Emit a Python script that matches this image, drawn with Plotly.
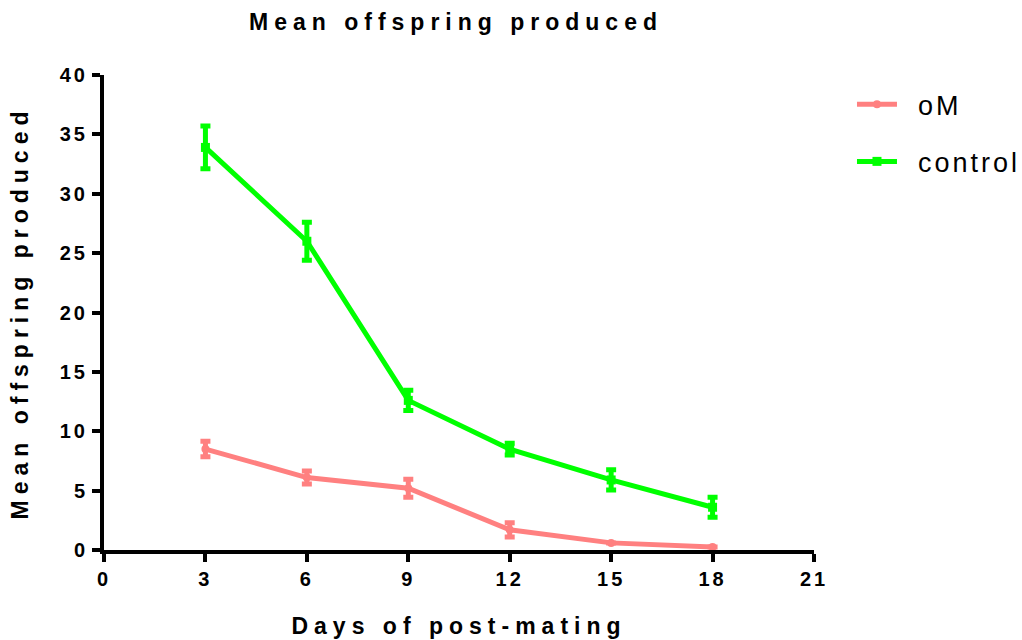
import plotly.graph_objects as go

# Days after mating at which offspring were counted
days = [3, 6, 9, 12, 15, 18]

# Mean offspring per group and their error (SEM)
om_mean = [8.5, 6.1, 5.2, 1.7, 0.6, 0.25]
om_err = [0.65, 0.55, 0.75, 0.6, 0.0, 0.0]
control_mean = [33.9, 26.0, 12.6, 8.5, 5.9, 3.6]
control_err = [1.8, 1.6, 0.85, 0.5, 0.85, 0.85]

x_ticks = [0, 3, 6, 9, 12, 15, 18, 21]
y_ticks = [0, 5, 10, 15, 20, 25, 30, 35, 40]

PINK = "#FF8080"
GREEN = "#00FF00"
FONT = "Liberation Sans, Arial, sans-serif"

fig = go.Figure()

fig.add_trace(go.Scatter(
    x=days, y=om_mean, name="oM", mode="lines+markers", legendgroup="om",
    line=dict(color=PINK, width=5),
    marker=dict(symbol="circle", size=8, color=PINK),
    error_y=dict(type="data", array=om_err, visible=True,
                 color=PINK, thickness=5, width=5),
))
fig.add_trace(go.Scatter(
    x=days, y=control_mean, name="control", mode="lines+markers", legendgroup="ctrl",
    line=dict(color=GREEN, width=5),
    marker=dict(symbol="square", size=9, color=GREEN),
    error_y=dict(type="data", array=control_err, visible=True,
                 color=GREEN, thickness=5, width=5),
))

axis_common = dict(
    showline=True, linewidth=4, linecolor="black",
    ticks="outside", ticklen=8, tickwidth=4, tickcolor="black",
    showgrid=False, zeroline=False, automargin=False,
    tickfont=dict(family=FONT, size=20, color="black", weight="bold"),
    title_font=dict(family=FONT, size=23, color="black", weight="bold"),
)

fig.update_layout(
    width=1022, height=640,
    margin=dict(l=104, r=208, t=75, b=90),
    paper_bgcolor="white", plot_bgcolor="white",
    title=dict(text="Mean offspring produced", x=456 / 1022, xref="container",
               xanchor="center", y=1 - 22 / 640, yanchor="middle",
               font=dict(family=FONT, size=23, color="black", weight="bold")),
    xaxis=dict(range=[0, 21], tickvals=x_ticks,
               title=dict(text="Days of post-mating", standoff=30), **axis_common),
    yaxis=dict(range=[0, 40], tickvals=y_ticks,
               title=dict(text="Mean offspring produced", standoff=32), **axis_common),
    legend=dict(x=1.0535, xanchor="left", y=0.989, yanchor="top",
                font=dict(family=FONT, size=27, color="black"),
                tracegroupgap=19, itemwidth=40, bgcolor="rgba(0,0,0,0)"),
    showlegend=True,
)

# Widen the letter spacing of the texts; push the legend labels a little
# away from their line samples and let them run past the legend box
spacing_css = """
var st = document.createElement('style');
st.textContent = '.gtitle, .xtitle, .ytitle {letter-spacing: 6px;} '
  + '.xtick text, .ytick text {letter-spacing: 3px;} '
  + '.legendtext {letter-spacing: 3px; transform: translate(16px, 0px);} '
  + '.legend .scrollbox {clip-path: none !important;}';
document.head.appendChild(st);
"""

fig.write_html("out.html", post_script=spacing_css)
